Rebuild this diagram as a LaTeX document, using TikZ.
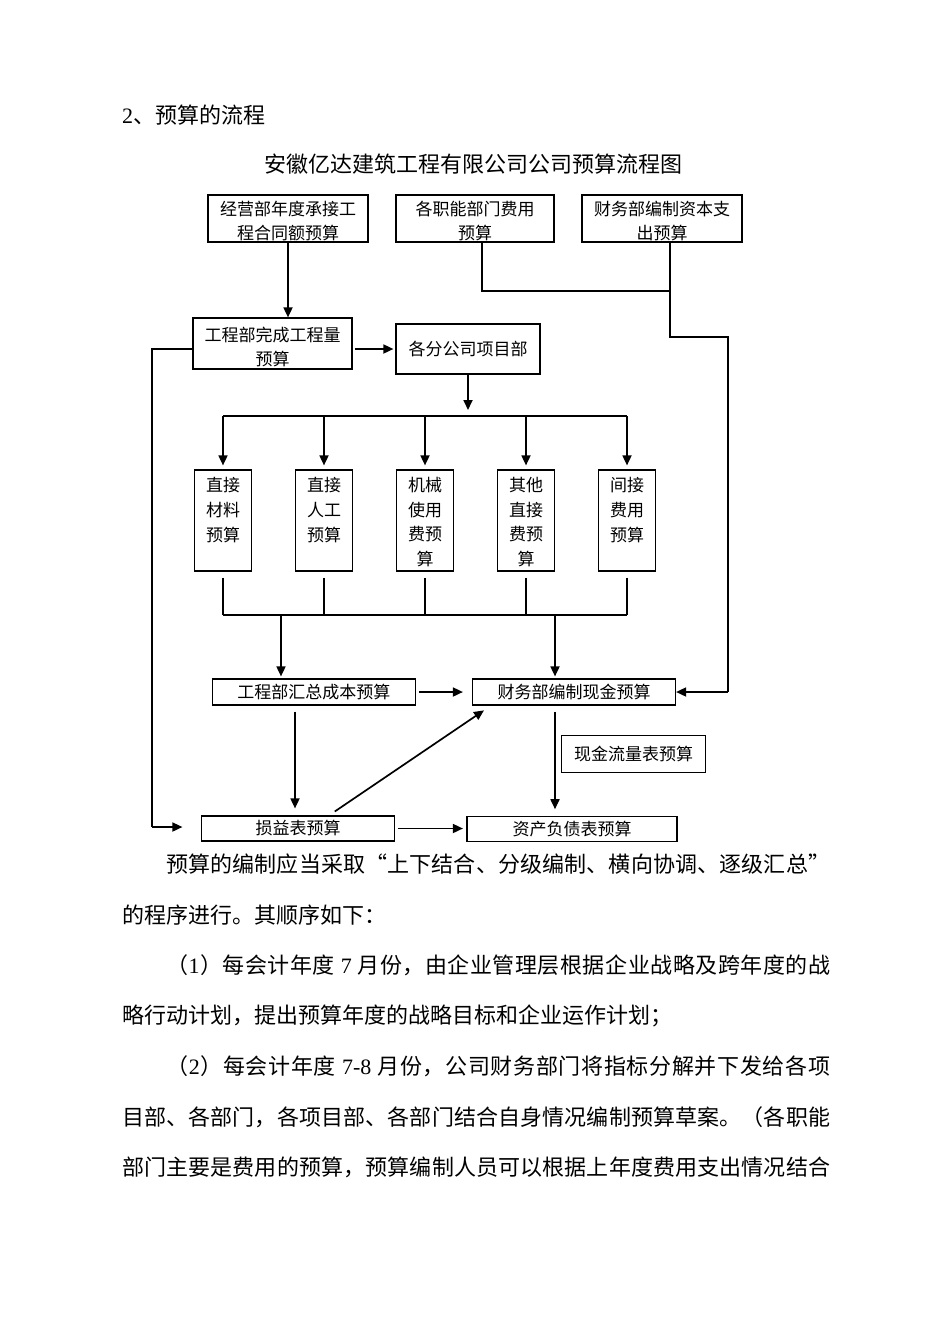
\documentclass[tikz,border=0pt]{standalone}
\usepackage{fontspec}
\setmainfont{Liberation Serif}
\newfontfamily\cjk{Noto Sans CJK SC}
\usetikzlibrary{arrows.meta,calc}
\def\spreadchars#1{\ifx#1\relax\else#1\hskip0pt plus 1fil\expandafter\spreadchars\fi}
\newcommand\nOne{\textrm{1}}
\newcommand\nTwo{\textrm{2}}
\newcommand\nSeven{\textrm{7}}
\newcommand\nSevEig{\textrm{7-8}}
\newcommand\boxfont{\cjk\fontsize{17}{24}\selectfont}
\newcommand\bodyfont{\cjk\fontsize{22}{22}\selectfont}
\newcommand\lowerA{\rule{0pt}{20pt}}
\newcommand\lowerB{\rule{0pt}{21.5pt}}
\begin{document}
\begin{tikzpicture}[x=1pt,y=-1pt,
  box/.style={draw, line width=1.2pt, inner sep=0pt, align=center, font=\boxfont},
  boxtxt/.style={inner sep=0pt, align=center, font=\cjk\fontsize{17}{24.7}\selectfont},
  body/.style={inner sep=0pt, anchor=west, font=\bodyfont},
  arr/.style={line width=1.7pt, -{Triangle[length=10pt,width=9pt]}},
  conn/.style={line width=1.4pt},
  thinline/.style={line width=1.1pt}]
\fill[white] (0,0) rectangle (950,1344);
\useasboundingbox (0,0) rectangle (950,1344);

% headings
\node[body] (title) at (122,115) {{\rmfamily 2}、预算的流程};
\node[inner sep=0pt, font=\bodyfont] (sub) at (473,164) {安徽亿达建筑工程有限公司公司预算流程图};

% top boxes
\node[box, minimum width=160pt, minimum height=47pt] (A) at (288,218.5) {\lowerA 经营部年度承接工\\程合同额预算};
\node[box, minimum width=158pt, minimum height=47pt] (F) at (475,218.5) {\lowerA 各职能部门费用\\预算};
\node[box, minimum width=160pt, minimum height=47pt] (C) at (662,218.5) {\lowerA 财务部编制资本支\\出预算};

\node[box, minimum width=159pt, minimum height=51pt, font=\cjk\fontsize{17}{24.7}\selectfont] (B) at (272.5,343.5) {\lowerB 工程部完成工程量\\预算};
\node[box, minimum width=144pt, minimum height=50pt] (D) at (468,349) {各分公司项目部};

% five boxes
\foreach \i/\x in {1/223,2/324,3/425,4/526,5/627}{
  \node[box, minimum width=57.5pt, minimum height=101pt] (M\i) at (\x,520.5) {};
}
\node[boxtxt] (t1) at (M1 |- 0,510) {直接\\材料\\预算};
\node[boxtxt] (t2) at (M2 |- 0,510) {直接\\人工\\预算};
\node[boxtxt] (t3) at (M3 |- 0,522) {机械\\使用\\费预\\算};
\node[boxtxt] (t4) at (M4 |- 0,522) {其他\\直接\\费预\\算};
\node[boxtxt] (t5) at (M5 |- 0,510) {间接\\费用\\预算};

% lower boxes
\node[box, minimum width=203pt, minimum height=26pt] (H) at (313.8,692) {工程部汇总成本预算};
\node[box, minimum width=203pt, minimum height=26pt] (X) at (574,692) {财务部编制现金预算};
\node[box, minimum width=144pt, minimum height=37pt] (K) at (633.5,754) {现金流量表预算};
\node[box, minimum width=193pt, minimum height=25pt] (P) at (298,828.5) {损益表预算};
\node[box, minimum width=210pt, minimum height=25pt] (Q) at (572,829.3) {资产负债表预算};

% helper coordinates
\coordinate (bT) at (223,416);
\coordinate (bB) at (223,615);
\coordinate (s1) at (281,615);
\coordinate (s2) at (555,615);
\coordinate (f1) at (482,291);
\coordinate (c1) at (670,337);
\coordinate (c2) at (728,337);
\coordinate (lx) at (152,827);
\coordinate (hx) at (295,760);

% top connectors
\draw[arr] (A.south) -- (A.south |- B.north);
\draw[arr, shorten <=2pt, shorten >=2pt] (B.east |- D.west) -- (D.west);
\draw[conn] (F.south -| f1) -- (f1) -- (f1 -| c1);
\draw[conn] (C.south -| c1) -- (c1) -- (c2) -- (c2 |- X.east);
\draw[arr] (c2 |- X.east) -- (X.east);
\draw[conn] (B.west |- D.west) -- (lx |- D.west) -- (lx);
\draw[arr, shorten >=18.5pt] (lx) -- (lx -| P.west);

% distribution to five boxes
\draw[arr, shorten >=6pt] (D.south) -- (D.south |- bT);
\draw[conn, line width=1.6pt] (M1.north |- bT) -- (M5.north |- bT);
\foreach \i in {1,...,5}{
  \draw[arr, shorten >=4pt] (M\i.north |- bT) -- (M\i.north);
}
% collection from five boxes
\foreach \i in {1,...,5}{
  \draw[thinline, shorten <=6pt] (M\i.south) -- (M\i.south |- bB);
}
\draw[thinline] (M1.south |- bB) -- (M5.south |- bB);
\draw[arr, shorten >=2pt] (s1) -- (s1 |- H.north);
\draw[arr, shorten >=2pt] (s2) -- (s2 |- X.north);

% lower connectors
\draw[arr, shorten <=3pt, shorten >=9pt] (H.east) -- (H.east -| X.west);
\draw[arr, shorten <=6pt, shorten >=7pt] (H.south -| hx) -- (P.north -| hx);
\draw[arr, shorten <=7pt, shorten >=8.5pt] ([xshift=31pt]P.north) -- ([xshift=-83pt]X.south);
\draw[arr, shorten <=6pt, shorten >=7pt] (X.south -| s2) -- (Q.north -| s2);
\draw[arr, shorten <=3pt, shorten >=3.5pt] (P.east) -- (P.east -| Q.west);

% body text
\node[body] (p1) at (166,864) {\hbox to 664pt{\spreadchars 预算的编制应当采取“上下结合、分级编制、横向协调、逐级汇总”\relax\unskip}};
\node[body] (p2) at (122,915) {的程序进行。其顺序如下：};
\node[body] (p3) at (166,965.5) {\hbox to 664pt{\spreadchars （\nOne）每会计年度\ \nSeven\ 月份，由企业管理层根据企业战略及跨年度的战\relax\unskip}};
\node[body] (p4) at (122,1016) {略行动计划，提出预算年度的战略目标和企业运作计划；};
\node[body] (p5) at (166,1066.5) {\hbox to 664pt{\spreadchars （\nTwo）每会计年度\ \nSevEig\ 月份，公司财务部门将指标分解并下发给各项\relax\unskip}};
\node[body] (p6) at (122,1117) {\hbox to 708pt{\spreadchars 目部、各部门，各项目部、各部门结合自身情况编制预算草案。（各职能\relax\unskip}};
\node[body] (p7) at (122,1167.5) {\hbox to 708pt{\spreadchars 部门主要是费用的预算，预算编制人员可以根据上年度费用支出情况结合\relax\unskip}};
\end{tikzpicture}
\end{document}
